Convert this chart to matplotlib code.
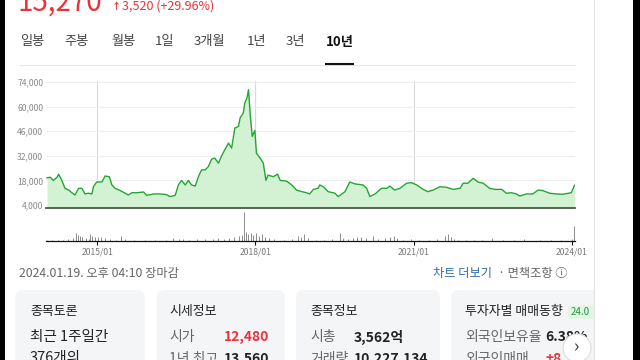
import matplotlib
matplotlib.use('Agg')
import matplotlib.pyplot as plt
from matplotlib.patches import Rectangle, FancyBboxPatch, Circle

plt.rcParams['font.family'] = ['Noto Sans CJK KR', 'DejaVu Sans']

# price (won), time as decimal year
years = [2014.05, 2014.11, 2014.17, 2014.24, 2014.27, 2014.33, 2014.39, 2014.46, 2014.52, 2014.58,
         2014.65, 2014.71, 2014.77, 2014.84, 2014.90, 2014.93, 2014.99, 2015.09, 2015.15, 2015.23,
         2015.28, 2015.34, 2015.44, 2015.53, 2015.59, 2015.66, 2015.75, 2015.88, 2015.94, 2016.07,
         2016.19, 2016.32, 2016.38, 2016.48, 2016.54, 2016.60, 2016.67, 2016.73, 2016.79, 2016.86,
         2016.92, 2016.98, 2017.05, 2017.11, 2017.17, 2017.23, 2017.30, 2017.36, 2017.42, 2017.49,
         2017.55, 2017.61, 2017.68, 2017.71, 2017.77, 2017.80, 2017.84, 2017.87, 2017.90, 2017.94,
         2017.99, 2018.02, 2018.09, 2018.15, 2018.20, 2018.24, 2018.34, 2018.42, 2018.47, 2018.59,
         2018.69, 2018.78, 2018.88, 2018.97, 2019.03, 2019.10, 2019.19, 2019.22, 2019.29, 2019.38,
         2019.51, 2019.57, 2019.70, 2019.79, 2019.89, 2020.04, 2020.11, 2020.17, 2020.27, 2020.39,
         2020.49, 2020.55, 2020.64, 2020.74, 2020.87, 2020.96, 2021.06, 2021.18, 2021.27, 2021.37,
         2021.50, 2021.62, 2021.75, 2021.88, 2021.94, 2022.03, 2022.13, 2022.22, 2022.32, 2022.44,
         2022.54, 2022.67, 2022.76, 2022.85, 2022.95, 2023.01, 2023.14, 2023.26, 2023.36, 2023.45,
         2023.58, 2023.71, 2023.83, 2023.99, 2024.05]
price = [19500, 19800, 18000, 19800, 21500, 18000, 13500, 12500, 11000, 9700,
         13500, 13500, 10300, 10700, 10300, 14400, 17100, 17100, 20500, 20100,
         15400, 13500, 12200, 10700, 9700, 11000, 11000, 11400, 9500, 10300,
         10300, 9900, 8800, 9500, 15400, 18000, 15400, 18000, 15400, 14800,
         20100, 24000, 24000, 25900, 30100, 30700, 27800, 32000, 35400, 39200,
         36400, 47800, 48700, 53500, 56300, 62000, 64900, 69600, 56300, 43000,
         46400, 33500, 30700, 27800, 18000, 21000, 20100, 21600, 18000, 17600,
         15400, 12500, 11600, 11000, 10300, 12900, 13500, 15400, 14400, 11600,
         10700, 8800, 11600, 17100, 16000, 15400, 13500, 8800, 10300, 13500,
         13500, 14800, 12500, 13500, 16400, 16700, 15400, 12900, 11600, 12500,
         14400, 14100, 12900, 13500, 16400, 16400, 19200, 17100, 16400, 13500,
         12900, 12900, 10700, 11000, 10300, 9100, 10300, 10300, 12500, 12200,
         10700, 10300, 10100, 11000, 15270]

# volume (relative)
vol_years = [2014.05, 2014.15, 2014.25, 2014.35, 2014.45, 2014.55, 2014.60, 2014.64, 2014.68, 2014.72,
             2014.78, 2014.84, 2014.87, 2014.91, 2014.95, 2015.02, 2015.08, 2015.15, 2015.25, 2015.35,
             2015.45, 2015.53, 2015.70, 2015.90, 2016.10, 2016.30, 2016.44, 2016.55, 2016.62, 2016.75,
             2016.90, 2017.05, 2017.20, 2017.30, 2017.40, 2017.50, 2017.60, 2017.68, 2017.74, 2017.78,
             2017.82, 2017.86, 2017.91, 2017.96, 2018.02, 2018.07, 2018.12, 2018.18, 2018.25, 2018.35,
             2018.55, 2018.70, 2018.80, 2018.86, 2018.92, 2019.00, 2019.15, 2019.30, 2019.45, 2019.60,
             2019.66, 2019.75, 2019.85, 2019.92, 2020.00, 2020.10, 2020.23, 2020.32, 2020.45, 2020.55,
             2020.62, 2020.68, 2020.80, 2020.95, 2021.10, 2021.30, 2021.45, 2021.60, 2021.66, 2021.70,
             2021.76, 2021.85, 2022.00, 2022.15, 2022.30, 2022.48, 2022.70, 2022.90, 2023.10, 2023.40,
             2023.60, 2023.80, 2024.00, 2024.05]
volume = [1, 1, 1.5, 1, 2, 3, 8, 6, 5, 4,
          3, 2, 7, 5, 4, 4, 4, 3, 2, 1.5,
          5, 2, 1, 1, 1, 1.5, 3, 2, 2.5, 1.5,
          2, 2, 2.5, 3, 2, 3, 4, 5, 6, 29,
          9, 7, 8, 6, 8, 5, 7, 4, 3, 2,
          1, 2.5, 5, 4, 7, 3, 1, 1, 2, 8,
          3, 2, 3, 4, 4, 3, 5, 2, 3, 4,
          5, 3, 1.5, 2, 1, 1.5, 2, 5, 7, 4,
          2, 1.5, 1, 1.5, 1, 3, 1.5, 1, 2, 1,
          1.5, 1, 2, 15]

yticks = [4000, 18000, 32000, 46000, 60000, 74000]
xticks = [2015, 2018, 2021, 2024]
xlabels = ['2015/01', '2018/01', '2021/01', '2024/01']
tabs = ['일봉', '주봉', '월봉', '1일', '3개월', '1년', '3년', '10년']
tab_x = [20, 64, 111, 155, 194, 247, 286, 326]

W, H = 640, 360
def box(x0, y0, x1, y1):
    return [x0 / W, 1 - y1 / H, (x1 - x0) / W, (y1 - y0) / H]

fig = plt.figure(figsize=(6.4, 3.6), dpi=100)
bg = fig.add_axes([0, 0, 1, 1])
bg.set_xlim(0, W)
bg.set_ylim(H, 0)
bg.axis('off')

red = '#e8333b'

# header
bg.text(18, 11, '15,270', fontsize=20, color=red, va='baseline', ha='left')
bg.text(112, 9.5, '↑', fontsize=6.5, color=red, va='baseline', fontweight='bold')
bg.text(122, 9.5, '3,520 (+29.96%)', fontsize=9, color=red, va='baseline')
for t, x in zip(tabs, tab_x):
    if t == '10년':
        bg.text(x, 42, t, fontsize=9.5, color='#111', va='center', fontweight='bold')
    else:
        bg.text(x, 42, t, fontsize=9.5, color='#444', va='center')
bg.plot([20, 575], [64.5, 64.5], color='#e6e6e6', lw=0.8)
bg.plot([325, 354], [64, 64], color='#111', lw=1.5, solid_capstyle='butt')

# footer row
bg.text(19, 273, '2024.01.19. 오후 04:10 장마감', fontsize=8.8, color='#666', va='center')
bg.text(433, 273, '차트 더보기', fontsize=8.8, color='#2f6aa8', va='center')
bg.text(498, 273, '· 면책조항 ⓘ', fontsize=8.8, color='#666', va='center')

cards = [(15, 145), (157, 285), (296, 440), (451, 610)]
for x0, x1 in cards:
    bg.add_patch(FancyBboxPatch((x0, 290), x1 - x0, 90,
                                boxstyle='round,pad=0,rounding_size=8',
                                fc='#f4f5f7', ec='none', zorder=1))

bg.text(30, 312, '종목토론', fontsize=9.3, color='#222', va='center')
bg.text(30, 337, '최근 1주일간', fontsize=10.5, color='#222', va='center')
bg.text(30, 358, '376개의', fontsize=10.5, color='#222', va='center')

bg.text(169, 312, '시세정보', fontsize=9.3, color='#222', va='center')
bg.text(169, 337, '시가', fontsize=10, color='#666', va='center')
bg.text(224, 337, '12,480', fontsize=10, color=red, va='center', fontweight='bold')
bg.text(169, 359, '1년 최고', fontsize=10, color='#666', va='center')
bg.text(224, 359, '13,560', fontsize=10, color='#222', va='center', fontweight='bold')

bg.text(310, 312, '종목정보', fontsize=9.3, color='#222', va='center')
bg.text(310, 337, '시총', fontsize=10, color='#666', va='center')
bg.text(354, 337, '3,562억', fontsize=10, color='#222', va='center', fontweight='bold')
bg.text(310, 359, '거래량', fontsize=10, color='#666', va='center')
bg.text(354, 359, '10,227,134', fontsize=10, color='#222', va='center', fontweight='bold')

bg.text(465, 312, '투자자별 매매동향', fontsize=9.3, color='#222', va='center')
bg.add_patch(FancyBboxPatch((568, 305), 40, 14, boxstyle='round,pad=0,rounding_size=3',
                            fc='#e3f6e4', ec='none', zorder=2))
bg.text(571, 312, '24.0', fontsize=7, color='#1f9a3a', va='center', zorder=3)
bg.text(465, 337, '외국인보유율', fontsize=10, color='#666', va='center')
bg.text(545, 337, '6.38%', fontsize=10, color='#222', va='center', fontweight='bold')
bg.text(465, 359, '외국인매매', fontsize=10, color='#666', va='center')
bg.text(545, 359, '+8', fontsize=10, color=red, va='center', fontweight='bold')
bg.add_patch(Circle((577, 348), 14, fc='white', ec='#dddddd', lw=0.8, zorder=9))
bg.text(577, 347, '›', fontsize=13, color='#333', ha='center', va='center', zorder=10)

# window edges
bg.add_patch(Rectangle((593.5, 0), 40, H, fc='white', ec='none', zorder=20))
bg.plot([593.5, 593.5], [0, H], color='#e3e3e3', lw=0.8, zorder=21)
bg.add_patch(Rectangle((633, 0), 8, H, fc='black', ec='none', zorder=22))
bg.add_patch(Rectangle((-1, 0), 6, H, fc='black', ec='none', zorder=22))

# price panel
ax = fig.add_axes(box(46, 81, 575, 208))
ax.fill_between(years, price, 0, color='#d3f2d3', lw=0)
ax.plot(years, price, color='#24a532', lw=1.0)
ax.set_xlim(2014.03, 2024.06)
ax.set_ylim(2300, 74560)
ax.set_yticks(yticks)
ax.set_yticklabels([f'{v:,}' for v in yticks])
ax.set_xticks(xticks[:3])
ax.set_xticklabels([])
ax.tick_params(axis='y', length=0, pad=2, labelsize=6.2, labelcolor='#888')
ax.tick_params(axis='x', length=0)
ax.grid(axis='y', color='#eeeeee', lw=0.8)
ax.grid(axis='x', color='#d9d9d9', lw=0.8)
ax.set_axisbelow(True)
for s in ['top', 'right', 'left']:
    ax.spines[s].set_visible(False)
ax.spines['bottom'].set_color('#4d584d')
ax.spines['bottom'].set_linewidth(1.3)
ax.patch.set_alpha(0)

# volume panel
axv = fig.add_axes(box(46, 208, 575, 241))
axv.vlines(vol_years, 0, volume, color='#8c8c8c', lw=0.7)
axv.set_xlim(2014.03, 2024.06)
axv.set_ylim(0, 33)
axv.set_yticks([])
axv.set_xticks(xticks)
axv.set_xticklabels(xlabels)
axv.tick_params(axis='x', length=3, width=0.8, color='#111', pad=1.5, labelsize=6.2, labelcolor='#777')
for s in ['top', 'right', 'left']:
    axv.spines[s].set_visible(False)
axv.spines['bottom'].set_color('#111')
axv.spines['bottom'].set_linewidth(0.9)
axv.patch.set_alpha(0)

fig.savefig('out.png', dpi=100)
